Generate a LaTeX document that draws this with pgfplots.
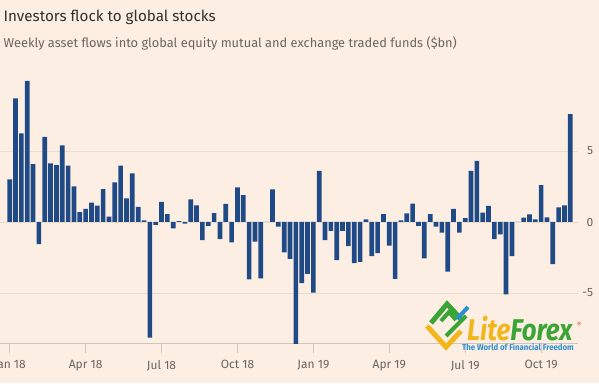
\documentclass[border=0pt]{standalone}
\usepackage{pgfplots}
\pgfplotsset{compat=1.18}
\usepackage{fontspec}
\setmainfont{Fira Sans}
\definecolor{bg}{HTML}{FDEEE3}
\definecolor{barc}{HTML}{1F4A85}
\definecolor{gridc}{HTML}{EADBCF}
\definecolor{axcol}{HTML}{CFC5BC}
\definecolor{lab}{HTML}{6B6460}
\definecolor{ttl}{HTML}{33302E}
\definecolor{litey}{HTML}{F2B51C}
\definecolor{liteg}{HTML}{3AA535}
\definecolor{liteb}{HTML}{2E8FD0}
\definecolor{liter}{HTML}{E9502A}
\pgfplotstableread{
i v
1 3.0
2 8.7
3 6.24
4 9.93
5 4.08
6 -1.55
7 6.0
8 4.13
9 4.01
10 5.4
11 3.97
12 2.51
13 0.7
14 0.92
15 1.36
16 1.15
17 2.32
18 0.38
19 2.79
20 3.97
21 1.67
22 3.43
23 1.06
24 0.12
25 -8.15
26 -0.2
27 1.41
28 0.56
29 -0.45
30 0.07
31 -0.12
32 1.6
33 1.17
34 -1.27
35 -0.28
36 0.63
37 -1.2
38 1.27
39 -1.43
40 2.44
41 1.9
42 -4.04
43 -1.38
44 -3.97
45 0
46 2.3
47 -0.33
48 -2.14
49 -2.6
50 -8.6
51 -4.3
52 -3.66
53 -4.98
54 3.6
55 -1.27
56 -0.63
57 -2.68
58 -0.63
59 -1.69
60 -2.9
61 -2.8
62 0.19
63 -2.4
64 -2.2
65 0.56
66 -1.67
67 -4.0
68 0.12
69 0.6
70 1.3
71 -0.28
72 -2.56
73 0.56
74 -0.33
75 -0.75
76 -3.5
77 0.92
78 -0.75
79 0.28
80 3.6
81 4.3
82 0.66
83 1.13
84 -1.2
85 -0.87
86 -5.1
87 -2.4
88 0
89 0.3
90 0.54
91 0.19
92 2.6
93 0.33
94 -2.96
95 1.03
96 1.17
97 7.6
}\flows
\begin{document}
\begin{tikzpicture}[x=1pt,y=1pt]
\useasboundingbox (0,0) rectangle (599,383);
\clip (0,0) rectangle (599,383);
\fill[bg] (0,0) rectangle (599,383);
\node[anchor=base west, inner sep=0, text=ttl, font=\fontsize{15.2}{18}\selectfont] at (3.5,361) {Investors flock to global stocks};
\node[anchor=base west, inner sep=0, text=lab, font=\fontsize{12.8}{15}\selectfont] at (3.5,335) {Weekly asset flows into global equity mutual and exchange traded funds (\$bn)};
\begin{axis}[
  at={(3.86pt,161pt)}, anchor=origin,
  scale only axis, width=577.9pt, height=270.4pt,
  xmin=-0.66, xmax=98.3, ymin=-8.54, ymax=10.5,
  ybar, bar width=0.8,
  axis x line*=bottom, axis y line*=right,
  x axis line style={draw=axcol, line width=0.8pt, -},
  y axis line style={draw=none},
  tick align=outside, major tick length=10pt,
  xtick={1,14,27,40,53,66,79,92},
  xticklabels={Jan 18,Apr 18,Jul 18,Oct 18,Jan 19,Apr 19,Jul 19,Oct 19},
  ytick={-5,0,5}, yticklabels={-5,0,5},
  ymajorgrids, grid style={draw=gridc, line width=0.8pt},
  xtick style={draw=axcol, line width=0.8pt},
  ytick style={draw=none},
  xticklabel style={text=lab, font=\fontsize{12}{14}\selectfont, inner sep=0, yshift=-7pt},
  yticklabel style={text=lab, font=\fontsize{12}{14}\selectfont, anchor=east, inner sep=0, xshift=5.5pt},
]
\addplot[fill=barc, draw=none] table[x=i, y=v] {\flows};
\end{axis}
% watermark
\draw[litey, line width=5pt, line join=miter] (427,57) -- (446,36) -- (461,52);
\draw[liteg, line width=5pt, line join=miter] (431,60) -- (447,79) -- (462,63);
\draw[liteg, line width=4pt] (441,62) -- (449,71) -- (456,63);
\draw[liteg, line width=4pt] (446,47) -- (466,67);
\draw[liteb, line width=4pt] (457,64) -- (468,76);
\node[anchor=base west, inner sep=0, xscale=0.86, font=\bfseries\itshape\fontsize{30}{30}\selectfont] at (467,43) {\textcolor{litey}{Lite}\textcolor{liteg}{Forex}};
\node[anchor=base west, inner sep=0, text=liter, font=\fontsize{7}{7}\selectfont] at (577,56) {®};
\node[anchor=base west, inner sep=0, xscale=0.92, text=liteb, font=\bfseries\fontsize{8.5}{9}\selectfont] at (462,33) {The World of Financial Freedom};
\end{tikzpicture}
\end{document}
